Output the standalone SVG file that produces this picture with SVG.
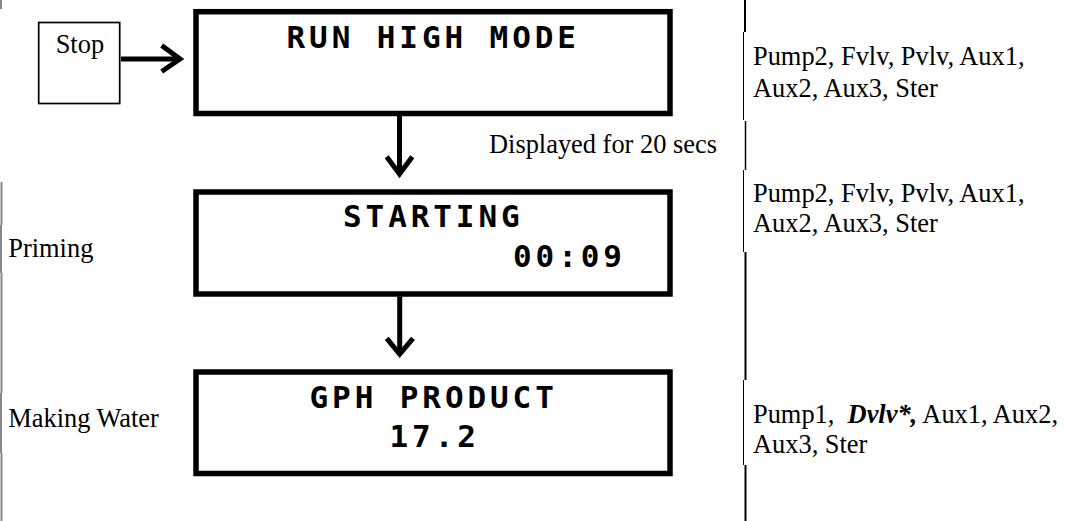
<svg xmlns="http://www.w3.org/2000/svg" width="1067" height="521" viewBox="0 0 1067 521">
<style>
.lbl{font-family:"Liberation Serif","Times New Roman",serif;font-size:26.4px;fill:#000;white-space:pre}
.lcd{font-family:"DejaVu Sans Mono",monospace;font-weight:bold;font-size:31px;letter-spacing:3.9px;fill:#000}
.disp{fill:#fff;stroke:#000;stroke-width:5.5}
.conn{fill:none;stroke:#000;stroke-width:5}
.head{fill:none;stroke:#000;stroke-width:5;stroke-linejoin:miter;stroke-linecap:butt}
.rule{stroke:#000;fill:none}
.grey{stroke:#888;stroke-width:2;fill:none}
</style>
<rect width="1067" height="521" fill="#fff"/>
<g id="table-lines">
<line class="grey" x1="1" y1="0" x2="1" y2="9"/>
<line class="grey" x1="1.5" y1="182" x2="1.5" y2="225"/>
<line class="grey" x1="1" y1="225" x2="1" y2="273"/>
<line class="grey" x1="1.5" y1="273" x2="1.5" y2="393"/>
<line class="grey" x1="1" y1="393" x2="1" y2="453"/>
<line class="grey" x1="1.5" y1="453" x2="1.5" y2="521"/>
<line class="rule" stroke-width="2" x1="745" y1="0" x2="745" y2="32"/>
<line class="rule" stroke-width="1" x1="743.5" y1="32" x2="743.5" y2="120"/>
<line class="rule" stroke-width="1.5" x1="745.5" y1="121" x2="745.5" y2="170"/>
<line class="rule" stroke-width="1" x1="743.5" y1="170" x2="743.5" y2="252"/>
<line class="rule" stroke-width="2" x1="745.5" y1="252" x2="745.5" y2="380"/>
<line class="rule" stroke-width="1" x1="743.5" y1="380" x2="743.5" y2="465"/>
<line class="rule" stroke-width="2" x1="745.5" y1="465" x2="745.5" y2="521"/>
</g>
<g id="stop">
<rect x="38.7" y="22.5" width="81" height="81" fill="#fff" stroke="#000" stroke-width="1.7"/>
<text class="lbl" x="55.7" y="52.7">Stop</text>
</g>
<g id="run-high-mode">
<rect class="disp" x="196" y="11.7" width="474" height="101.8"/>
<text class="lcd" x="286.5" y="48">RUN HIGH MODE</text>
</g>
<g id="starting">
<rect class="disp" x="196" y="192" width="474" height="102"/>
<text class="lcd" x="343" y="227">STARTING</text>
<text class="lcd" x="513" y="267">00:09</text>
</g>
<g id="gph-product">
<rect class="disp" x="196" y="372" width="474" height="101.5"/>
<text class="lcd" x="309.5" y="408">GPH PRODUCT</text>
<text class="lcd" x="389.5" y="447">17.2</text>
</g>
<g id="connectors">
<line class="conn" x1="121" y1="59" x2="178" y2="59"/>
<polyline class="head" points="161.7,45.5 180,59 161.7,71.5"/>
<line class="conn" x1="399.5" y1="116" x2="399.5" y2="172"/>
<polyline class="head" points="386.7,156.7 399.5,174 412.3,156.7"/>
<line class="conn" x1="399.7" y1="296.5" x2="399.7" y2="352"/>
<polyline class="head" points="386.7,338.3 399.7,354 413,338.3"/>
</g>
<g id="labels">
<text class="lbl" x="489" y="153.3">Displayed for 20 secs</text>
<text class="lbl" x="8.3" y="256.7">Priming</text>
<text class="lbl" x="8.3" y="427.3">Making Water</text>
<text class="lbl" x="753" y="65">Pump2, Fvlv, Pvlv, Aux1,</text>
<text class="lbl" x="753" y="96.7">Aux2, Aux3, Ster</text>
<text class="lbl" x="753" y="201.7">Pump2, Fvlv, Pvlv, Aux1,</text>
<text class="lbl" x="753" y="231.7">Aux2, Aux3, Ster</text>
<text class="lbl" x="753" y="423">Pump1,  <tspan font-weight="bold" font-style="italic">Dvlv*,</tspan> Aux1, Aux2,</text>
<text class="lbl" x="753" y="453">Aux3, Ster</text>
</g>
</svg>
